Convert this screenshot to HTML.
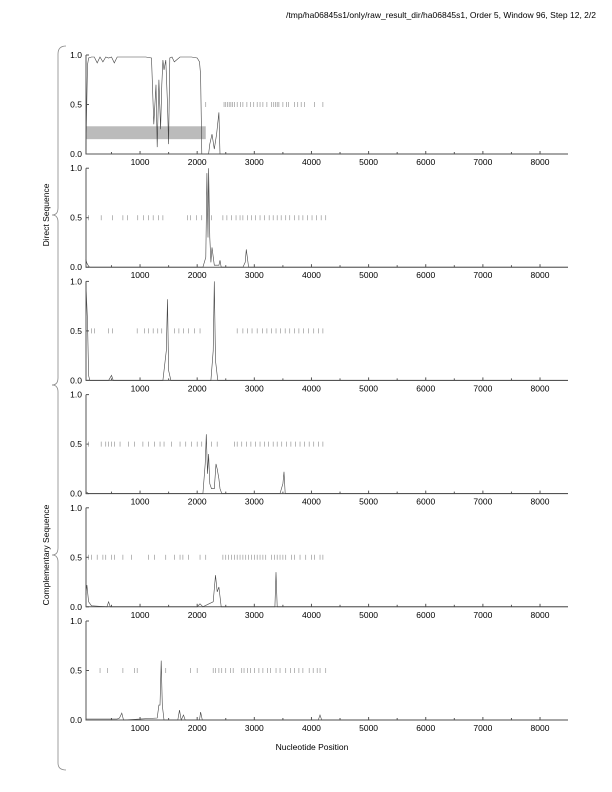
<!DOCTYPE html>
<html><head><meta charset="utf-8"><style>
body{margin:0;background:#fff;}
svg{display:block;font-family:"Liberation Sans",sans-serif;}
</style></head><body>
<svg id="c" width="612" height="792" viewBox="0 0 612 792">
<text x="596" y="18" font-size="8.5" text-anchor="end" fill="#000">/tmp/ha06845s1/only/raw_result_dir/ha06845s1, Order 5, Window 96, Step 12, 2/2</text>
<text x="312" y="750" font-size="8.5" text-anchor="middle">Nucleotide Position</text>
<text transform="translate(49,215) rotate(-90)" font-size="8.5" text-anchor="middle">Direct Sequence</text>
<text transform="translate(49,555) rotate(-90)" font-size="8.5" text-anchor="middle">Complementary Sequence</text>
<path d="M66,46 Q58,46 58,54 L58,208 Q58,215 52,215 Q58,215 58,222 L58,378 Q58,385 52,385" fill="none" stroke="#888" stroke-width="0.8"/>
<path d="M52,385 Q58,385 58,392 L58,548 Q58,555 52,555 Q58,555 58,562 L58,763 Q58,770 66,770" fill="none" stroke="#888" stroke-width="0.8"/>
<g id="plots"></g>
</svg>
<script>
const xTicks=[1000,2000,3000,4000,5000,6000,7000,8000];
const yTicks=[0,0.5,1.0];
const p1Pos=[50,80,100,150,200,250,300,350,400,450,500,550,600,700,800,900,1000,1100,1200,1240,1280,1300,1330,1360,1380,1400,1420,1450,1480,1500,1520,1560,1600,1700,1800,1900,2000,2040,2060,2080,2100,2200,2220,2260,2300,2340,2380,2400,2500,8490];
const p1Val=[0,0.9,0.97,0.98,0.98,0.92,0.98,0.93,0.98,0.97,0.98,0.92,0.98,0.98,0.98,0.98,0.98,0.98,0.97,0.3,0.7,0.07,0.75,0.25,0.7,0.95,0.85,0.95,0.5,0.1,0.97,0.98,0.93,0.98,0.98,0.98,0.97,0.93,0.8,0,0,0,0.1,0.2,0.05,0.2,0.42,0,0,0];
const p2Pos=[50,70,100,120,2100,2150,2170,2190,2200,2220,2240,2260,2300,2380,2400,2420,2800,2840,2860,2900,8490];
const p2Val=[0.08,0.04,0.01,0,0,0.1,0.95,0.3,1.0,0.3,0.05,0.2,0.02,0.02,0.07,0,0,0.05,0.18,0,0];
const p3Pos=[50,80,100,120,450,500,530,1400,1460,1480,1500,1540,2240,2280,2300,2320,2360,8490];
const p3Val=[1.0,0.6,0.05,0,0,0.05,0,0,0.3,0.82,0.1,0,0,0.3,1.0,0.2,0,0];
const p4Pos=[50,100,2100,2140,2160,2180,2200,2220,2250,2300,2330,2350,2380,2400,2430,3450,3500,3520,3540,8490];
const p4Val=[0.02,0,0,0.3,0.6,0.2,0.4,0.1,0.05,0.05,0.3,0.25,0.15,0.05,0,0,0.1,0.22,0,0];
const p5Pos=[50,70,100,150,420,450,480,2000,2050,2100,2280,2320,2350,2380,2420,3360,3380,3400,8490];
const p5Val=[0.12,0.22,0.05,0.01,0,0.05,0,0,0.03,0,0.05,0.32,0.15,0.2,0,0,0.35,0,0];
const p6Pos=[50,600,640,680,710,1300,1330,1350,1370,1390,1420,1660,1690,1720,1760,1790,2040,2060,2090,4120,4150,4180,8490];
const p6Val=[0.01,0.01,0.02,0.07,0,0.02,0.15,0.15,0.6,0.15,0,0,0.1,0,0.05,0,0,0.08,0,0,0.05,0,0];
const p1Stops=[2150,2470,2500,2530,2560,2590,2620,2650,2700,2760,2800,2870,2930,2990,3050,3100,3150,3220,3300,3340,3370,3400,3430,3500,3560,3600,3700,3760,3820,3880,4050,4200];
const p2Stops=[100,320,520,700,780,960,1060,1150,1230,1320,1400,1830,1880,1990,2080,2250,2450,2520,2600,2680,2750,2800,2880,2950,3020,3100,3180,3260,3330,3400,3470,3550,3620,3700,3780,3850,3930,4010,4090,4170,4250];
const p3Stops=[150,200,450,520,950,1080,1150,1230,1310,1380,1600,1680,1760,1850,1950,2050,2700,2800,2880,2960,3050,3140,3220,3300,3380,3460,3540,3620,3700,3780,3860,3950,4040,4120,4200];
const p4Stops=[60,100,320,400,450,500,550,650,800,900,1050,1150,1250,1350,1420,1550,1700,1800,1900,2000,2080,2250,2350,2650,2700,2780,2860,2940,3020,3100,3180,3250,3330,3400,3480,3560,3640,3720,3800,3880,3960,4040,4120,4200];
const p5Stops=[100,150,250,350,400,500,550,700,850,1150,1250,1450,1600,1700,1750,1850,2050,2150,2450,2500,2550,2600,2650,2700,2750,2800,2850,2900,2950,3000,3050,3100,3150,3200,3300,3350,3400,3450,3500,3550,3650,3700,3800,3900,4000,4050,4150,4200];
const p6Stops=[300,430,700,900,950,1450,1880,2000,2280,2320,2380,2430,2500,2580,2630,2780,2820,2880,2930,3000,3080,3150,3230,3280,3380,3450,3550,3630,3700,3780,3850,3960,4030,4100,4150,4250];
const panels=[[p1Pos,p1Val,p1Stops],[p2Pos,p2Val,p2Stops],[p3Pos,p3Val,p3Stops],[p4Pos,p4Val,p4Stops],[p5Pos,p5Val,p5Stops],[p6Pos,p6Val,p6Stops]];
const NS="http://www.w3.org/2000/svg";
const g=document.getElementById('plots');
const X0=86,X1=568;
function xs(v){return 82.9+v*0.05714;}
function mk(t,a){const e=document.createElementNS(NS,t);for(const k in a)e.setAttribute(k,a[k]);return e;}
panels.forEach((p,i)=>{
  const bottom=154+i*113.2, top=bottom-99;
  const ys=v=>bottom-v*99;
  const grp=mk('g',{});
  
  
  g.appendChild(grp);
  if(i===0){
    const r=mk('rect',{x:X0,y:ys(0.28),width:xs(2150)-X0,height:ys(0.15)-ys(0.28),fill:'#bbb'});
    
    
    grp.appendChild(r);
  }
  const ax=mk('path',{d:`M${X0},${top} L${X0},${bottom} L${X1},${bottom}`,fill:'none',stroke:'#555','stroke-width':1});
  
  
  grp.appendChild(ax);
  yTicks.forEach(t=>{
    grp.appendChild(mk('line',{x1:X0,x2:X0+3,y1:ys(t),y2:ys(t),stroke:'#555'}));
    const tx=mk('text',{x:X0-4,y:ys(t)+3,'font-size':8.5,'text-anchor':'end'});
    
    
    tx.textContent=t.toFixed(1);grp.appendChild(tx);
  });
  for(let v=500;v<=8000;v+=500)grp.appendChild(mk('line',{x1:xs(v),x2:xs(v),y1:bottom,y2:bottom-(v%1000?2:3),stroke:'#555'}));
  xTicks.forEach(t=>{
    const tx=mk('text',{x:xs(t),y:bottom+11,'font-size':8.5,'text-anchor':'middle'});
    
    
    tx.textContent=t;grp.appendChild(tx);
  });
  p[2].forEach(s=>{
    const l=mk('line',{x1:xs(s),x2:xs(s),y1:ys(0.5)-2.5,y2:ys(0.5)+2.5,stroke:'#888','stroke-width':0.6});
    
    
    grp.appendChild(l);
  });
  const d=p[0].map((x,j)=>(j?'L':'M')+xs(x).toFixed(1)+','+ys(p[1][j]).toFixed(1)).join(' ');
  const ln=mk('path',{d:d,fill:'none',stroke:'#444','stroke-width':0.6});
  
  
  grp.appendChild(ln);
});
</script>
</body></html>
